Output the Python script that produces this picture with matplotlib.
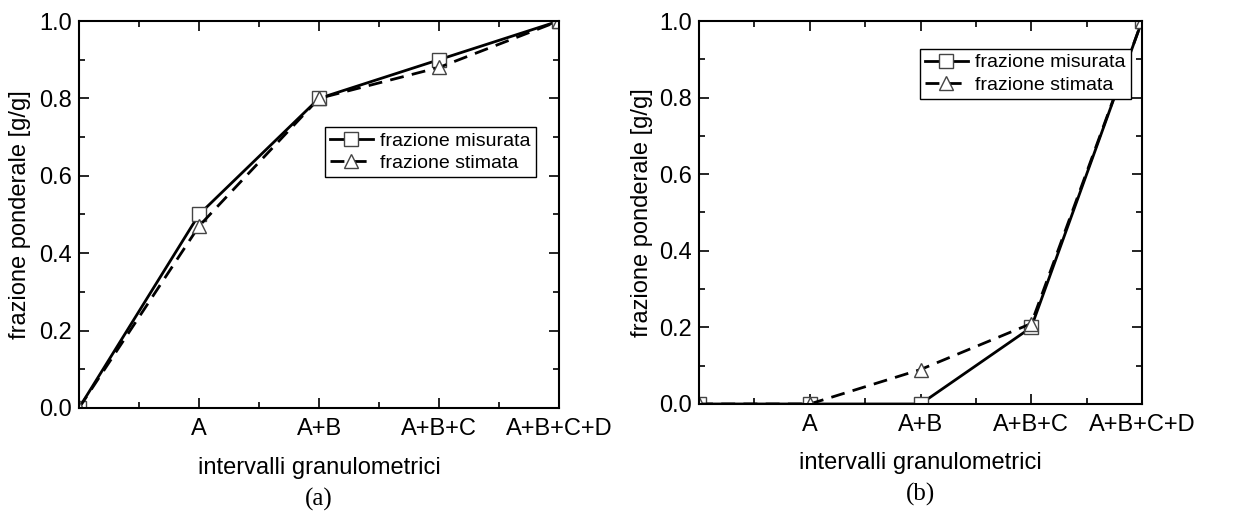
import matplotlib.pyplot as plt
from matplotlib.ticker import MultipleLocator

plt.rcParams['font.family'] = ['Liberation Sans', 'DejaVu Sans']

# intervalli granulometrici cumulati
categories = ['', 'A', 'A+B', 'A+B+C', 'A+B+C+D']
x = list(range(len(categories)))

# (a)
misurata_a = [0.0, 0.50, 0.80, 0.90, 1.00]
stimata_a = [0.0, 0.47, 0.80, 0.88, 1.00]

# (b)
misurata_b = [0.0, 0.0, 0.0, 0.20, 1.00]
stimata_b = [0.0, 0.0, 0.09, 0.21, 1.00]

fig = plt.figure(figsize=(12.37, 5.11), dpi=100)
ax1 = fig.add_axes([0.0639, 0.2016, 0.3880, 0.7573])
ax2 = fig.add_axes([0.5651, 0.2094, 0.3581, 0.7495])


def disegna(ax, misurata, stimata, legend_pos, ylab_x, sub):
    ax.plot(x, misurata, '-', color='black', lw=2, marker='s', ms=9.5,
            mfc='white', mec='#444444', mew=1, label='frazione misurata')
    ax.plot(x, stimata, '--', color='black', lw=2, dashes=(5, 3), marker='^',
            ms=10, mfc='white', mec='#444444', mew=1, label='frazione stimata')
    ax.set_xlim(0, 4)
    ax.set_ylim(0, 1)
    ax.set_xticks(x)
    ax.set_xticklabels(categories)
    ax.xaxis.set_minor_locator(MultipleLocator(0.5))
    ax.yaxis.set_major_locator(MultipleLocator(0.2))
    ax.yaxis.set_minor_locator(MultipleLocator(0.1))
    ax.yaxis.set_major_formatter(plt.FormatStrFormatter('%.1f'))
    ax.tick_params(which='both', direction='in', top=True, right=True,
                   labelsize=17, width=1.2)
    ax.tick_params(which='major', length=7)
    ax.tick_params(axis='x', which='major', pad=7)
    ax.tick_params(axis='y', which='major', pad=5)
    ax.tick_params(which='minor', length=4)
    for s in ax.spines.values():
        s.set_linewidth(1.5)
    ax.set_xlabel('intervalli granulometrici', fontsize=17, va='center')
    ax.xaxis.set_label_coords(0.5, -0.155)
    ax.set_ylabel('frazione ponderale [g/g]', fontsize=17, va='center')
    ax.yaxis.set_label_coords(ylab_x, 0.5)
    leg = ax.legend(loc='upper left', bbox_to_anchor=legend_pos, fontsize=14,
                    frameon=True, fancybox=False, edgecolor='black',
                    handlelength=2.2, handletextpad=0.4, borderpad=0.25,
                    labelspacing=0.25, borderaxespad=0, framealpha=1)
    leg.get_frame().set_linewidth(1)
    # etichetta del sottografico sotto l'asse x
    ax.text(0.5, -0.236, sub, transform=ax.transAxes, ha='center',
            va='center', fontsize=18, family='Liberation Serif')


disegna(ax1, misurata_a, stimata_a, (0.5125, 0.726), -0.123, '(a)')
disegna(ax2, misurata_b, stimata_b, (0.499, 0.927), -0.129, '(b)')

fig.savefig('out.png', dpi=100)
